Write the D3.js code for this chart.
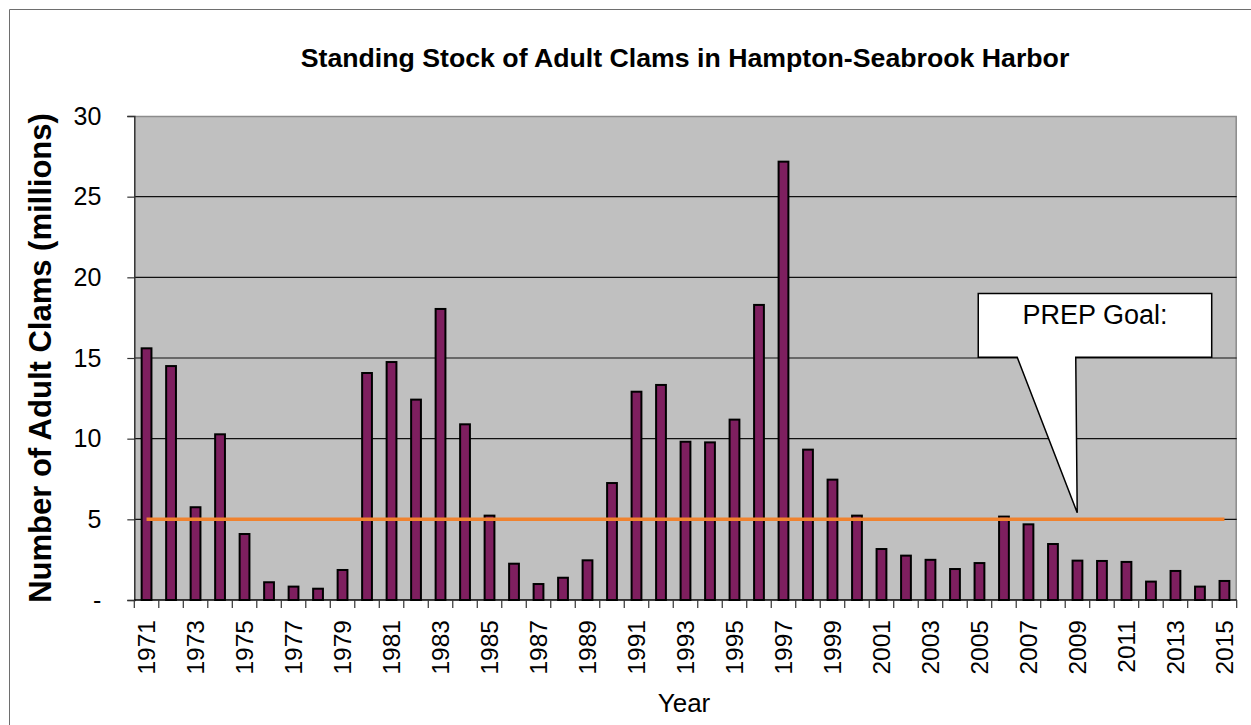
<!DOCTYPE html>
<html>
<head>
<meta charset="utf-8">
<script src="https://cdn.jsdelivr.net/npm/d3@7"></script>
<style>
  html, body { margin: 0; padding: 0; background: #fff; }
  svg { display: block; font-family: Arial, "Liberation Sans", sans-serif; }
</style>
</head>
<body>
<svg id="chart" width="1251" height="725"></svg>
<script>
// Standing stock of adult clams (millions), Hampton-Seabrook Harbor
const years = d3.range(1971, 2016).map(String);
const clams = [
  15.6, 14.5, 5.75, 10.27, 4.09, 1.1, 0.83, 0.7, 1.86, 14.07,
  14.75, 12.42, 18.04, 10.89, 5.23, 2.25, 0.99, 1.38, 2.46, 7.25,
  12.91, 13.33, 9.81, 9.77, 11.18, 18.29, 27.17, 9.32, 7.46, 5.23,
  3.16, 2.75, 2.49, 1.92, 2.29, 5.17, 4.69, 3.47, 2.44, 2.42,
  2.36, 1.14, 1.8, 0.83, 1.18
];
const goal = 5;                       // PREP goal, millions
const yTicks = [0, 5, 10, 15, 20, 25, 30];
const yTickLabels = ["-", "5", "10", "15", "20", "25", "30"];
const xLabelYears = years.filter((d, i) => i % 2 === 0);

const svg = d3.select("#chart");
const W = 1251, H = 725;
const plot = { left: 134.3, right: 1236.7, top: 116, bottom: 600 };

svg.append("rect").attr("width", W).attr("height", H).attr("fill", "#fff");

// chart frame (left and top edges visible)
svg.append("path")
  .attr("d", `M9.5,${H} V9.5 H${W}`)
  .attr("fill", "none").attr("stroke", "#6e6e6e").attr("stroke-width", 1);

const x = d3.scaleBand().domain(years)
  .range([plot.left, plot.right]).paddingInner(0.6).paddingOuter(0.3);
const y = d3.scaleLinear().domain([0, 30]).range([plot.bottom, plot.top]);
const step = x.step();
const xAt = i => plot.left + i * step;   // position in band units

// plot background
svg.append("rect")
  .attr("x", plot.left).attr("y", plot.top)
  .attr("width", plot.right - plot.left).attr("height", plot.bottom - plot.top)
  .attr("fill", "#c0c0c0");
svg.append("path")
  .attr("d", `M${plot.left},${plot.top + 0.5} H${plot.right - 0.5} V${plot.bottom}`)
  .attr("fill", "none").attr("stroke", "#8c8c8c").attr("stroke-width", 1.5);

// horizontal gridlines
svg.append("g").selectAll("line")
  .data(yTicks.filter(d => d > 0 && d < 30)).join("line")
  .attr("x1", plot.left).attr("x2", plot.right)
  .attr("y1", d => y(d)).attr("y2", d => y(d))
  .attr("stroke", "#111").attr("stroke-width", 1.2);

// y axis
const yAxis = d3.axisLeft(y).tickValues(yTicks)
  .tickFormat((d, i) => yTickLabels[i]).tickSize(7).tickPadding(26);
const gy = svg.append("g").attr("transform", `translate(${plot.left},0)`).call(yAxis);
gy.select(".domain").attr("stroke", "#333").attr("stroke-width", 1.5);
gy.selectAll(".tick line").attr("stroke", "#333").attr("stroke-width", 1.2);
gy.selectAll(".tick text")
  .attr("font-size", 25).attr("fill", "#000")
  .attr("font-family", "Arial, 'Liberation Sans', sans-serif");

// x axis: ticks between categories, every other year labelled
const gx = svg.append("g").attr("transform", `translate(0,${plot.bottom})`);
gx.append("line").attr("x1", plot.left).attr("x2", plot.right)
  .attr("stroke", "#000").attr("stroke-width", 1.5);
gx.selectAll("line.tk").data(d3.range(years.length + 1)).join("line")
  .attr("class", "tk")
  .attr("x1", i => xAt(i)).attr("x2", i => xAt(i))
  .attr("y1", 0).attr("y2", 8)
  .attr("stroke", "#333").attr("stroke-width", 1.2);
gx.selectAll("text").data(xLabelYears).join("text")
  .attr("transform", d => `translate(${x(d) + x.bandwidth() / 2},20) rotate(-90)`)
  .attr("text-anchor", "end").attr("dy", "0.36em")
  .attr("font-size", 24.5).attr("fill", "#000")
  .text(d => d);

// bars
svg.append("g").selectAll("rect")
  .data(years.map((yr, i) => ({ yr, v: clams[i] }))).join("rect")
  .attr("x", d => x(d.yr)).attr("width", x.bandwidth())
  .attr("y", d => y(d.v)).attr("height", d => y(0) - y(d.v))
  .attr("fill", "#7e1f5f").attr("stroke", "#000").attr("stroke-width", 2);

// PREP goal line
svg.append("line")
  .attr("x1", x(years[0]) + x.bandwidth() / 2)
  .attr("x2", x(years[years.length - 1]) + x.bandwidth() / 2)
  .attr("y1", y(goal)).attr("y2", y(goal))
  .attr("stroke", "#f0822e").attr("stroke-width", 3.5);

// callout
const cb = { l: xAt(34.45), r: xAt(43.98), t: y(19.0), b: y(15.04) };
const tip = [xAt(38.49), y(5.41)];
svg.append("path")
  .attr("d", `M${cb.l},${cb.t} H${cb.r} V${cb.b} H${xAt(38.43)} L${tip[0]},${tip[1]} L${xAt(36.04)},${cb.b} H${cb.l} Z`)
  .attr("fill", "#fff").attr("stroke", "#000").attr("stroke-width", 1.5);
svg.append("text")
  .attr("x", (cb.l + cb.r) / 2).attr("y", y(17.1))
  .attr("text-anchor", "middle").attr("font-size", 27).attr("fill", "#000")
  .text("PREP Goal:");

// titles
svg.append("text")
  .attr("x", 685).attr("y", 67).attr("text-anchor", "middle")
  .attr("font-size", 26.7).attr("font-weight", "bold").attr("fill", "#000")
  .text("Standing Stock of Adult Clams in Hampton-Seabrook Harbor");
svg.append("text")
  .attr("transform", `translate(51,${(plot.top + plot.bottom) / 2}) rotate(-90)`)
  .attr("text-anchor", "middle")
  .attr("font-size", 31).attr("font-weight", "bold").attr("fill", "#000")
  .text("Number of Adult Clams (millions)");
svg.append("text")
  .attr("x", 684).attr("y", 712).attr("text-anchor", "middle")
  .attr("font-size", 26).attr("fill", "#000")
  .text("Year");
</script>
</body>
</html>
